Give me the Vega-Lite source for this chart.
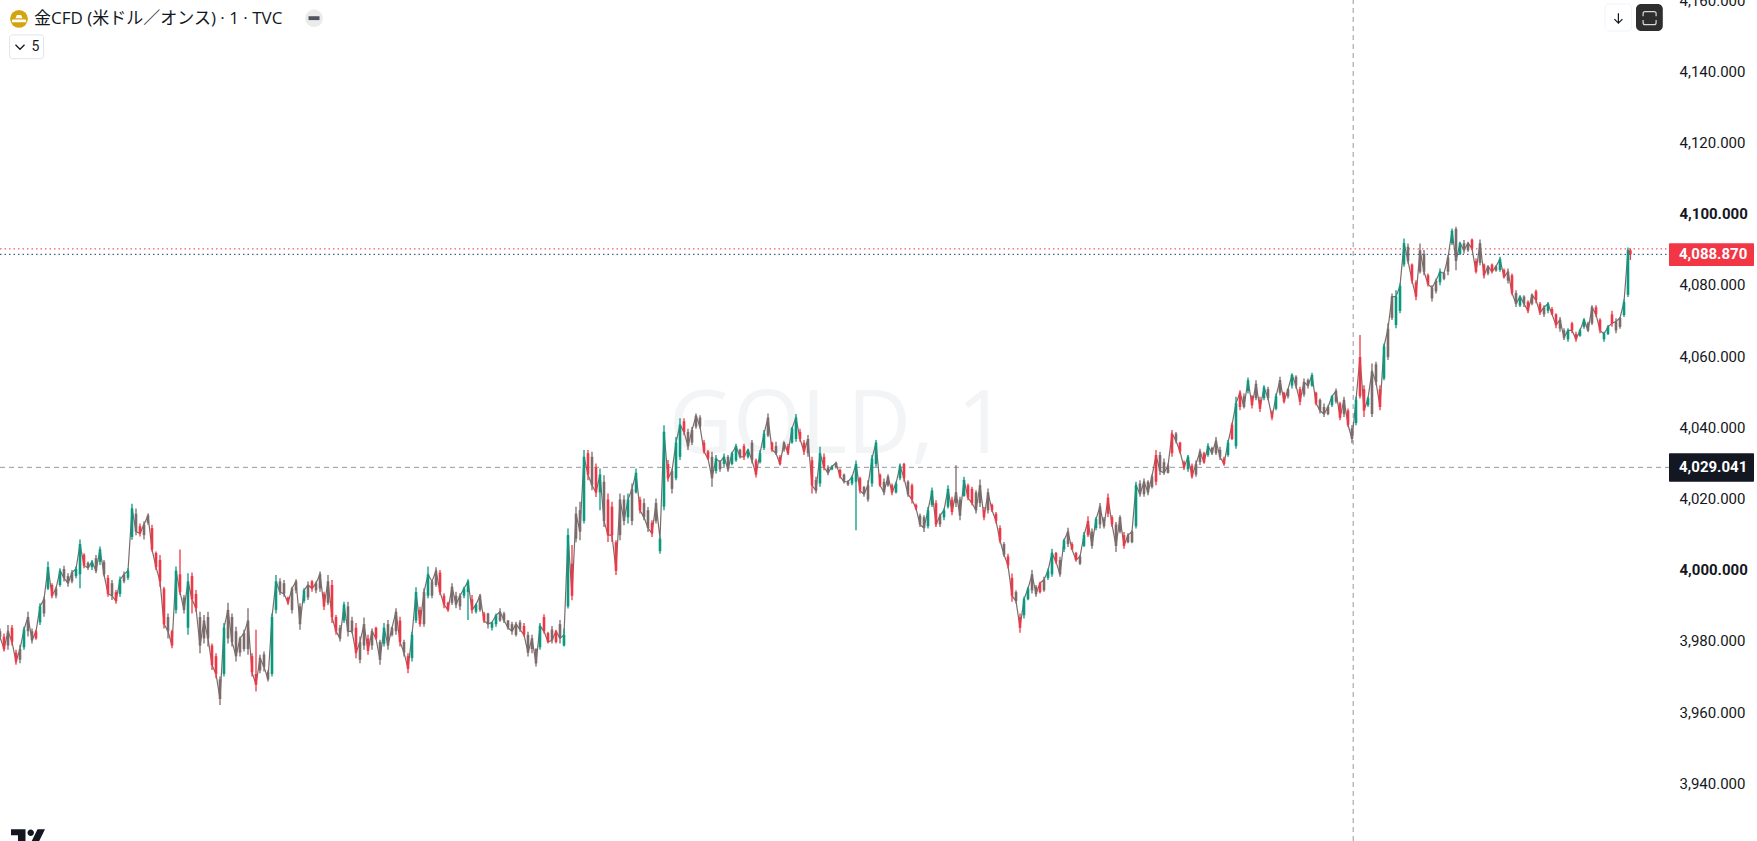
{"$schema":"https://vega.github.io/schema/vega-lite/v6.json","width":1669,"height":841,"autosize":{"type":"none"},"padding":{"left":0,"top":0,"right":88,"bottom":0},"background":"#ffffff","config":{"view":{"stroke":null},"axisY":{"title":null,"orient":"right","domain":false,"ticks":false,"grid":false,"labelPadding":10,"labelOffset":-1,"labelFont":"Roboto","labelFontSize":15,"labelColor":"#131722","format":",.3f","values":[3940,3960,3980,4000,4020,4040,4060,4080,4100,4120,4140,4160],"labelOverlap":false,"labelBound":false,"labelFlush":false}},
"encoding":{"x":{"field":"t","type":"quantitative","scale":{"domain":[0,417.25],"nice":false,"zero":false},"axis":null},"y":{"field":"p","type":"quantitative","scale":{"domain":[3924.1,4160.3],"nice":false,"zero":false},"axis":{"title":null,"orient":"right","format":",.3f","values":[3940,3960,3980,4000,4020,4040,4060,4080,4100,4120,4140,4160],"labelFontWeight":{"condition":{"test":"datum.value%100===0","value":"bold"},"value":"normal"}}}},
"layer":[
{"data":{"values":[{"t":209.5,"p":4040.4,"s":"GOLD, 1"}]},"mark":{"type":"text","font":"Open Sans","fontSize":88,"align":"center","baseline":"middle","color":"#f3f4f6"},"encoding":{"text":{"field":"s"}}},
{"data":{"values":[{"t":0,"t2":417.25,"p":4090.4}]},"mark":{"type":"rule","stroke":"#f23645","strokeWidth":1,"strokeDash":[1.5,3]},"encoding":{"x2":{"field":"t2"}}},
{"data":{"values":[{"t":0,"t2":417.25,"p":4088.87}]},"mark":{"type":"rule","stroke":"#1e3a6e","strokeWidth":1,"strokeDash":[1.5,3]},"encoding":{"x2":{"field":"t2"}}},
{"data":{"values":[{"t":0,"t2":417.25,"p":4029.041}]},"mark":{"type":"rule","stroke":"#9598a1","strokeWidth":1,"strokeDash":[5,4]},"encoding":{"x2":{"field":"t2"}}},
{"data":{"values":[{"t":338.3,"p":3924.1,"p2":4160.3}]},"mark":{"type":"rule","stroke":"#9598a1","strokeWidth":1,"strokeDash":[5,4]},"encoding":{"y2":{"field":"p2"}}},
{"data":{"name":"candles"},"mark":{"type":"line","strokeWidth":1.2,"color":"#7b6b6b"},"encoding":{"y":{"field":"c","type":"quantitative","scale":{"domain":[3924.1,4160.3],"nice":false,"zero":false},"axis":{"title":null,"orient":"right","format":",.3f","values":[3940,3960,3980,4000,4020,4040,4060,4080,4100,4120,4140,4160],"labelFontWeight":{"condition":{"test":"datum.value%100===0","value":"bold"},"value":"normal"}}}}},
{"data":{"name":"candles"},"mark":{"type":"rule","strokeWidth":1.3},"encoding":{"y":{"field":"h","type":"quantitative","scale":{"domain":[3924.1,4160.3],"nice":false,"zero":false},"axis":{"title":null,"orient":"right","format":",.3f","values":[3940,3960,3980,4000,4020,4040,4060,4080,4100,4120,4140,4160],"labelFontWeight":{"condition":{"test":"datum.value%100===0","value":"bold"},"value":"normal"}}},"y2":{"field":"l"},"color":{"field":"d","type":"nominal","scale":{"domain":["u","d","m"],"range":["#089981","#f23645","#7b6b6b"]},"legend":null}}},
{"data":{"name":"candles"},"mark":{"type":"rule","strokeWidth":2.6},"encoding":{"y":{"field":"o","type":"quantitative","scale":{"domain":[3924.1,4160.3],"nice":false,"zero":false},"axis":{"title":null,"orient":"right","format":",.3f","values":[3940,3960,3980,4000,4020,4040,4060,4080,4100,4120,4140,4160],"labelFontWeight":{"condition":{"test":"datum.value%100===0","value":"bold"},"value":"normal"}}},"y2":{"field":"c"},"color":{"field":"d","type":"nominal","scale":{"domain":["u","d","m"],"range":["#089981","#f23645","#7b6b6b"]},"legend":null}}},
{"data":{"values":[{"t":417.25,"t2":438.5,"p":4092,"p2":4085.6}]},"mark":{"type":"rect","color":"#f23645","cornerRadius":1},"encoding":{"x2":{"field":"t2"},"y2":{"field":"p2"}}},
{"data":{"values":[{"t":417.25,"t2":438.5,"p":4033,"p2":4025}]},"mark":{"type":"rect","color":"#131722","cornerRadius":1},"encoding":{"x2":{"field":"t2"},"y2":{"field":"p2"}}},
{"data":{"values":[{"t":419.75,"p":4088.87,"s":"4,088.870"},{"t":419.75,"p":4029.041,"s":"4,029.041"}]},"mark":{"type":"text","font":"Roboto","fontSize":15,"fontWeight":"bold","align":"left","baseline":"middle","color":"#ffffff"},"encoding":{"text":{"field":"s"}}},
{"data":{"values":[{"t":8.5,"p":4155,"s":"金CFD (米ドル／オンス) · 1 · TVC"}]},"mark":{"type":"text","font":"Open Sans, Noto Sans CJK JP","fontSize":17,"align":"left","baseline":"middle","color":"#131722"},"encoding":{"text":{"field":"s"}}},
{"data":{"values":[{"t":4.75,"p":4155}]},"mark":{"type":"point","filled":true,"shape":"circle","size":314,"color":"#d4a40e","opacity":1}},
{"data":{"values":[{"t":4.75,"p":4155}]},"mark":{"type":"point","filled":true,"shape":"M-0.3,-0.55L0.3,-0.55L0.5,-0.1L-0.5,-0.1ZM-0.95,0.1L0.95,0.1L1.05,0.5L-1.05,0.5Z","size":196,"color":"#ffffff","opacity":1}},
{"data":{"values":[{"t":78.5,"p":4155.2}]},"mark":{"type":"point","filled":true,"shape":"circle","size":314,"color":"#ebebeb","opacity":1}},
{"data":{"values":[{"t":78.5,"p":4155.2}]},"mark":{"type":"point","filled":true,"shape":"M-1,-0.35H1V0.35H-1Z","size":121,"color":"#50535e","opacity":1}},
{"data":{"values":[{"t":2.4,"t2":10.9,"p":4150.5,"p2":4143.8}]},"mark":{"type":"rect","fill":"#ffffff","stroke":"#e0e3eb","strokeWidth":1,"cornerRadius":3},"encoding":{"x2":{"field":"t2"},"y2":{"field":"p2"}}},
{"data":{"values":[{"t":5,"p":4147.1}]},"mark":{"type":"point","filled":false,"shape":"M-1,-0.5L0,0.5L1,-0.5","size":81,"strokeWidth":1.3,"color":"#131722","opacity":1}},
{"data":{"values":[{"t":7.9,"p":4147.1,"s":"5"}]},"mark":{"type":"text","font":"Roboto","fontSize":14,"align":"left","baseline":"middle","color":"#131722"},"encoding":{"text":{"field":"s"}}},
{"data":{"values":[{"t":401.3,"t2":407.9,"p":4159.2,"p2":4151.6}]},"mark":{"type":"rect","fill":"#ffffff","stroke":"#f0f3fa","strokeWidth":1,"cornerRadius":4},"encoding":{"x2":{"field":"t2"},"y2":{"field":"p2"}}},
{"data":{"values":[{"t":404.6,"p":4155.2}]},"mark":{"type":"point","filled":false,"shape":"M0,-1V1M-0.8,0.2L0,1L0.8,0.2","size":100,"strokeWidth":1.2,"color":"#131722","opacity":1}},
{"data":{"values":[{"t":409,"t2":415.7,"p":4159.2,"p2":4151.6}]},"mark":{"type":"rect","color":"#2e2e2e","cornerRadius":5},"encoding":{"x2":{"field":"t2"},"y2":{"field":"p2"}}},
{"data":{"values":[{"t":412.4,"p":4155.2}]},"mark":{"type":"point","filled":false,"shape":"M-1,-0.3V-0.7Q-1,-1-0.7,-1H0.7Q1,-1 1,-0.7V-0.3M-1,0.3V0.7Q-1,1-0.7,1H0.7Q1,1 1,0.7V0.3","size":169,"strokeWidth":1.2,"color":"#d8d8d8","opacity":1}},
{"data":{"values":[{"t":7,"p":3924.9}]},"mark":{"type":"point","filled":true,"shape":"M-1,-0.53H-0.147V0.7H-0.59V-0.176H-1ZM0.56,-0.53H1L0.4,0.7H-0.04ZM-0.03,-0.32A0.19,0.19 0 1 0 0.35,-0.32A0.19,0.19 0 1 0 -0.03,-0.32Z","size":1156,"color":"#131722","opacity":1}}
],
"datasets":{"candles":[
{"t":0,"h":3983.8,"l":3980.6,"o":3983,"c":3981.4,"d":"m"},{"t":1,"h":3982.4,"l":3977.3,"o":3981.5,"c":3978,"d":"d"},{"t":2,"h":3984.8,"l":3977.8,"o":3979,"c":3983,"d":"m"},{"t":3,"h":3984.8,"l":3979,"o":3984,"c":3980,"d":"d"},{"t":4,"h":3977.8,"l":3973.6,"o":3977,"c":3974.5,"d":"d"},{"t":5,"h":3979.2,"l":3974,"o":3975,"c":3978,"d":"m"},{"t":6,"h":3984.3,"l":3977.8,"o":3978.5,"c":3983.5,"d":"u"},{"t":7,"h":3988.5,"l":3981.5,"o":3983,"c":3987,"d":"m"},{"t":8,"h":3983.8,"l":3979.6,"o":3983,"c":3980.5,"d":"m"},{"t":9,"h":3983.4,"l":3980.6,"o":3981,"c":3983,"d":"d"},
{"t":10,"h":3990.9,"l":3984.8,"o":3985.5,"c":3990,"d":"u"},{"t":11,"h":3992.7,"l":3987.1,"o":3988,"c":3992,"d":"m"},{"t":12,"h":4002.6,"l":3994.6,"o":3995,"c":4001,"d":"u"},{"t":13,"h":3996.5,"l":3992.3,"o":3996,"c":3993,"d":"d"},{"t":14,"h":3995.5,"l":3992.3,"o":3993,"c":3995,"d":"m"},{"t":15,"h":4000.7,"l":3995.5,"o":3996,"c":4000,"d":"u"},{"t":16,"h":4001.4,"l":3997,"o":4000.5,"c":3998,"d":"m"},{"t":17,"h":3999.3,"l":3995.5,"o":3998.5,"c":3996.5,"d":"m"},{"t":18,"h":4000.2,"l":3996.5,"o":3997,"c":3999.5,"d":"m"},{"t":19,"h":4001.2,"l":3997.9,"o":3998.5,"c":4000.5,"d":"u"},
{"t":20,"h":4008.8,"l":3995.1,"o":3999,"c":4007.5,"d":"u"},{"t":21,"h":4004.9,"l":4000.7,"o":4004.5,"c":4001.5,"d":"d"},{"t":22,"h":4002.6,"l":4000.2,"o":4002.2,"c":4000.8,"d":"m"},{"t":23,"h":4003,"l":4000.2,"o":4001,"c":4002.5,"d":"u"},{"t":24,"h":4004.4,"l":3999.3,"o":4003.5,"c":4000,"d":"m"},{"t":25,"h":4006.8,"l":4001.6,"o":4002.5,"c":4006,"d":"u"},{"t":26,"h":4003,"l":3998.4,"o":4002.5,"c":3999,"d":"m"},{"t":27,"h":3998.8,"l":3992.7,"o":3998,"c":3993.5,"d":"d"},{"t":28,"h":3997.4,"l":3991.8,"o":3996.5,"c":3993,"d":"m"},{"t":29,"h":3994.6,"l":3990.7,"o":3994,"c":3991.5,"d":"d"},
{"t":30,"h":3998.4,"l":3992.7,"o":3993.5,"c":3997.5,"d":"u"},{"t":31,"h":3999.8,"l":3996.5,"o":3997,"c":3999,"d":"m"},{"t":32,"h":4000.7,"l":3997.4,"o":3998,"c":4000,"d":"u"},{"t":33,"h":4018.8,"l":4008.7,"o":4009.5,"c":4017.5,"d":"u"},{"t":34,"h":4017.5,"l":4010,"o":4016,"c":4011,"d":"m"},{"t":35,"h":4013.3,"l":4009.6,"o":4012.5,"c":4010.5,"d":"d"},{"t":36,"h":4013.8,"l":4008.8,"o":4010,"c":4013,"d":"m"},{"t":37,"h":4016.1,"l":4012.9,"o":4013.5,"c":4015.5,"d":"m"},{"t":38,"h":4012.9,"l":4005.4,"o":4012,"c":4006,"d":"d"},{"t":39,"h":4005.4,"l":4000.2,"o":4005,"c":4001,"d":"d"},
{"t":40,"h":4004.4,"l":3995.5,"o":4003,"c":3997,"d":"d"},{"t":41,"h":3995.5,"l":3983.8,"o":3995,"c":3985,"d":"d"},{"t":42,"h":3988,"l":3981,"o":3987,"c":3983,"d":"m"},{"t":43,"h":3983.4,"l":3978.2,"o":3983,"c":3979,"d":"d"},{"t":44,"h":4001.2,"l":3988,"o":3989,"c":4000,"d":"u"},{"t":45,"h":4006,"l":3993.2,"o":3999,"c":3994,"d":"d"},{"t":46,"h":3993.2,"l":3988,"o":3992.5,"c":3989,"d":"m"},{"t":47,"h":3999.3,"l":3982,"o":3984,"c":3997,"d":"u"},{"t":48,"h":3999.5,"l":3988,"o":3998.5,"c":3992,"d":"d"},{"t":49,"h":3994.6,"l":3988.5,"o":3993.5,"c":3989.5,"d":"d"},
{"t":50,"h":3988.5,"l":3976.8,"o":3987,"c":3979,"d":"m"},{"t":51,"h":3987.6,"l":3979.6,"o":3981,"c":3986,"d":"m"},{"t":52,"h":3988.5,"l":3978.7,"o":3987,"c":3981,"d":"m"},{"t":53,"h":3979.6,"l":3972.1,"o":3979,"c":3973.5,"d":"d"},{"t":54,"h":3976.8,"l":3969.8,"o":3976,"c":3971,"d":"d"},{"t":55,"h":3970.3,"l":3962.3,"o":3969.5,"c":3964,"d":"m"},{"t":56,"h":3985.3,"l":3970.3,"o":3971,"c":3984,"d":"u"},{"t":57,"h":3991,"l":3979.6,"o":3981,"c":3989,"d":"m"},{"t":58,"h":3988,"l":3978.7,"o":3987,"c":3980,"d":"m"},{"t":59,"h":3984.3,"l":3974.5,"o":3983,"c":3976,"d":"m"},
{"t":60,"h":3981.5,"l":3975.9,"o":3977,"c":3981,"d":"m"},{"t":61,"h":3983.4,"l":3977.3,"o":3978,"c":3982.5,"d":"m"},{"t":62,"h":3989.5,"l":3976.4,"o":3978,"c":3986,"d":"m"},{"t":63,"h":3976.8,"l":3970.3,"o":3976,"c":3971.5,"d":"d"},{"t":64,"h":3983.4,"l":3966.1,"o":3971,"c":3968,"d":"d"},{"t":65,"h":3976.4,"l":3971.2,"o":3972,"c":3975.5,"d":"m"},{"t":66,"h":3977.3,"l":3971.7,"o":3976.5,"c":3973,"d":"m"},{"t":67,"h":3972.1,"l":3968.9,"o":3971.5,"c":3969.5,"d":"m"},{"t":68,"h":3988,"l":3970.3,"o":3971,"c":3987,"d":"u"},{"t":69,"h":3998.8,"l":3988,"o":3989,"c":3997,"d":"u"},
{"t":70,"h":3997.9,"l":3993.2,"o":3997,"c":3994,"d":"m"},{"t":71,"h":3997.4,"l":3992.7,"o":3996.5,"c":3993.5,"d":"m"},{"t":72,"h":3992.7,"l":3990.4,"o":3992.5,"c":3991,"d":"d"},{"t":73,"h":3995.5,"l":3988,"o":3989,"c":3995,"d":"m"},{"t":74,"h":3997.6,"l":3993.7,"o":3994.5,"c":3997,"d":"m"},{"t":75,"h":3990.9,"l":3983.4,"o":3990,"c":3985,"d":"m"},{"t":76,"h":3995.1,"l":3990.9,"o":3991.5,"c":3994.5,"d":"u"},{"t":77,"h":3997,"l":3991.8,"o":3992.5,"c":3996,"d":"m"},{"t":78,"h":3997.4,"l":3994.1,"o":3997,"c":3995,"d":"d"},{"t":79,"h":3997,"l":3993.7,"o":3994.5,"c":3996.5,"d":"m"},
{"t":80,"h":3999.8,"l":3994.1,"o":3995,"c":3999,"d":"m"},{"t":81,"h":3994.1,"l":3989,"o":3993.5,"c":3990,"d":"d"},{"t":82,"h":3998.8,"l":3990.4,"o":3991,"c":3997,"d":"m"},{"t":83,"h":3997.4,"l":3985.3,"o":3996,"c":3987,"d":"d"},{"t":84,"h":3987.6,"l":3982,"o":3987,"c":3983,"d":"d"},{"t":85,"h":3984.8,"l":3980.1,"o":3984,"c":3981,"d":"m"},{"t":86,"h":3991.3,"l":3985.3,"o":3986,"c":3990.5,"d":"u"},{"t":87,"h":3991.3,"l":3981.5,"o":3990,"c":3983,"d":"m"},{"t":88,"h":3987.1,"l":3982.4,"o":3986,"c":3983,"d":"m"},{"t":89,"h":3985.3,"l":3975.4,"o":3984,"c":3977,"d":"d"},
{"t":90,"h":3981.5,"l":3974,"o":3975,"c":3980,"d":"m"},{"t":91,"h":3986.9,"l":3977.8,"o":3979,"c":3985,"d":"m"},{"t":92,"h":3982,"l":3976.4,"o":3981,"c":3977.5,"d":"d"},{"t":93,"h":3983.8,"l":3977.8,"o":3979,"c":3983,"d":"m"},{"t":94,"h":3984.3,"l":3980.6,"o":3984,"c":3981,"d":"d"},{"t":95,"h":3980.6,"l":3973.6,"o":3980,"c":3975,"d":"m"},{"t":96,"h":3985.3,"l":3978.7,"o":3979.5,"c":3984,"d":"u"},{"t":97,"h":3986.2,"l":3977.8,"o":3985,"c":3979,"d":"m"},{"t":98,"h":3984.3,"l":3981.5,"o":3982,"c":3984,"d":"m"},{"t":99,"h":3989.5,"l":3982,"o":3983,"c":3988.5,"d":"m"},
{"t":100,"h":3987.1,"l":3978.7,"o":3986,"c":3980,"d":"d"},{"t":101,"h":3980.6,"l":3975.9,"o":3980,"c":3977,"d":"m"},{"t":102,"h":3976.8,"l":3971.2,"o":3976,"c":3972.5,"d":"d"},{"t":103,"h":3982.9,"l":3974.5,"o":3975.5,"c":3982,"d":"u"},{"t":104,"h":3995.4,"l":3985.3,"o":3986,"c":3994,"d":"u"},{"t":105,"h":3989.9,"l":3984.3,"o":3989,"c":3985,"d":"d"},{"t":106,"h":3995.1,"l":3984.3,"o":3985,"c":3994,"d":"m"},{"t":107,"h":4001.2,"l":3992.3,"o":3993,"c":3999,"d":"u"},{"t":108,"h":3997.4,"l":3992.3,"o":3993,"c":3997,"d":"m"},{"t":109,"h":4001,"l":3995.5,"o":3996,"c":4000,"d":"m"},
{"t":110,"h":4000.2,"l":3993.2,"o":3999.5,"c":3994,"d":"d"},{"t":111,"h":3993.7,"l":3989.5,"o":3993,"c":3990.5,"d":"d"},{"t":112,"h":3991.3,"l":3988.5,"o":3991,"c":3989,"d":"d"},{"t":113,"h":3996.5,"l":3990.4,"o":3991,"c":3995.5,"d":"m"},{"t":114,"h":3994.1,"l":3989.5,"o":3993,"c":3990.5,"d":"m"},{"t":115,"h":3993.7,"l":3989,"o":3990,"c":3993,"d":"m"},{"t":116,"h":3995.5,"l":3992.3,"o":3993,"c":3995,"d":"u"},{"t":117,"h":3997.6,"l":3986.2,"o":3994,"c":3997,"d":"u"},{"t":118,"h":3993.2,"l":3988,"o":3992,"c":3989,"d":"d"},{"t":119,"h":3990.9,"l":3988,"o":3988.5,"c":3990.5,"d":"u"},
{"t":120,"h":3993.5,"l":3988.5,"o":3989,"c":3993,"d":"m"},{"t":121,"h":3988.5,"l":3985.3,"o":3988,"c":3986,"d":"d"},{"t":122,"h":3988.2,"l":3983.8,"o":3988,"c":3985,"d":"m"},{"t":123,"h":3985.7,"l":3983.2,"o":3984,"c":3985.5,"d":"u"},{"t":124,"h":3988,"l":3984.3,"o":3985,"c":3987.5,"d":"u"},{"t":125,"h":3989.5,"l":3985.7,"o":3986,"c":3988.5,"d":"m"},{"t":126,"h":3988.5,"l":3985.3,"o":3988,"c":3986,"d":"m"},{"t":127,"h":3986.2,"l":3983.4,"o":3986,"c":3984,"d":"m"},{"t":128,"h":3985.7,"l":3982,"o":3985,"c":3983,"d":"m"},{"t":129,"h":3985.7,"l":3981.5,"o":3982,"c":3985,"d":"m"},
{"t":130,"h":3986.2,"l":3982.9,"o":3985.5,"c":3983.5,"d":"m"},{"t":131,"h":3985.3,"l":3981.5,"o":3984.5,"c":3982,"d":"d"},{"t":132,"h":3982.9,"l":3975.9,"o":3982,"c":3977,"d":"m"},{"t":133,"h":3982,"l":3976.8,"o":3978,"c":3981,"d":"m"},{"t":134,"h":3978.2,"l":3973.1,"o":3978,"c":3974,"d":"m"},{"t":135,"h":3985.3,"l":3977.8,"o":3978.5,"c":3984.5,"d":"u"},{"t":136,"h":3987.8,"l":3982.4,"o":3987,"c":3983,"d":"d"},{"t":137,"h":3982.9,"l":3979.6,"o":3982.5,"c":3980,"d":"d"},{"t":138,"h":3984.5,"l":3979.6,"o":3983.5,"c":3980.5,"d":"m"},{"t":139,"h":3983.4,"l":3979.6,"o":3980,"c":3983,"d":"d"},
{"t":140,"h":3986.2,"l":3979.6,"o":3985,"c":3981,"d":"m"},{"t":141,"h":3983.8,"l":3978.7,"o":3979,"c":3982,"d":"u"},{"t":142,"h":4011.9,"l":3989.4,"o":3990,"c":4010,"d":"u"},{"t":143,"h":4007.2,"l":3991.7,"o":4002,"c":3993,"d":"d"},{"t":144,"h":4018,"l":4008,"o":4009,"c":4016,"d":"m"},{"t":145,"h":4019.4,"l":4008.6,"o":4017,"c":4011,"d":"m"},{"t":146,"h":4033.9,"l":4013.3,"o":4014,"c":4032,"d":"u"},{"t":147,"h":4033.9,"l":4025.4,"o":4033,"c":4027,"d":"d"},{"t":148,"h":4033.4,"l":4022.6,"o":4032,"c":4024,"d":"m"},{"t":149,"h":4030.1,"l":4020.7,"o":4029,"c":4022,"d":"d"},
{"t":150,"h":4028.7,"l":4017,"o":4022,"c":4027,"d":"u"},{"t":151,"h":4026.8,"l":4012.3,"o":4025,"c":4014,"d":"m"},{"t":152,"h":4021.7,"l":4008.1,"o":4020,"c":4010,"d":"d"},{"t":153,"h":4019.4,"l":4008.1,"o":4018,"c":4010,"d":"d"},{"t":154,"h":4008.6,"l":3998.8,"o":4008,"c":4000,"d":"d"},{"t":155,"h":4021.7,"l":4008.6,"o":4010,"c":4020,"d":"m"},{"t":156,"h":4021.2,"l":4012.8,"o":4020,"c":4014,"d":"m"},{"t":157,"h":4021.7,"l":4013.3,"o":4015,"c":4020,"d":"u"},{"t":158,"h":4024.5,"l":4012.8,"o":4014,"c":4023,"d":"m"},{"t":159,"h":4028.7,"l":4021.7,"o":4022,"c":4027.5,"d":"u"},
{"t":160,"h":4020.8,"l":4016.1,"o":4020,"c":4017,"d":"d"},{"t":161,"h":4020.3,"l":4014.2,"o":4019,"c":4015,"d":"m"},{"t":162,"h":4017.9,"l":4010.9,"o":4017,"c":4012,"d":"m"},{"t":163,"h":4014.2,"l":4009.5,"o":4013.5,"c":4010.5,"d":"d"},{"t":164,"h":4020.3,"l":4013.3,"o":4014,"c":4019,"d":"m"},{"t":165,"h":4009.5,"l":4004.8,"o":4005.5,"c":4009,"d":"u"},{"t":166,"h":4040.9,"l":4017,"o":4018,"c":4039,"d":"u"},{"t":167,"h":4031.1,"l":4025,"o":4030,"c":4026,"d":"d"},{"t":168,"h":4028.7,"l":4021.7,"o":4023,"c":4028,"d":"m"},{"t":169,"h":4037.6,"l":4025.4,"o":4026,"c":4036,"d":"u"},
{"t":170,"h":4042.8,"l":4031.1,"o":4032,"c":4041,"d":"u"},{"t":171,"h":4042.8,"l":4038.1,"o":4042,"c":4039,"d":"d"},{"t":172,"h":4039.9,"l":4033.9,"o":4039,"c":4035,"d":"m"},{"t":173,"h":4040.4,"l":4035.3,"o":4036,"c":4039.5,"d":"m"},{"t":174,"h":4044.2,"l":4039.9,"o":4040.5,"c":4043.5,"d":"m"},{"t":175,"h":4043.7,"l":4039.9,"o":4043,"c":4040.5,"d":"m"},{"t":176,"h":4036.7,"l":4032.9,"o":4036,"c":4033.5,"d":"d"},{"t":177,"h":4033.9,"l":4031.1,"o":4033.5,"c":4031.5,"d":"d"},{"t":178,"h":4033.4,"l":4023.6,"o":4032,"c":4026,"d":"m"},{"t":179,"h":4032.5,"l":4027.3,"o":4028,"c":4031.5,"d":"u"},
{"t":180,"h":4031.1,"l":4027.8,"o":4028.5,"c":4030.5,"d":"m"},{"t":181,"h":4032.9,"l":4029.2,"o":4030,"c":4032,"d":"u"},{"t":182,"h":4032.5,"l":4027.8,"o":4032,"c":4028.5,"d":"m"},{"t":183,"h":4033.4,"l":4029.6,"o":4030,"c":4033,"d":"u"},{"t":184,"h":4035.7,"l":4030.6,"o":4031,"c":4035,"d":"u"},{"t":185,"h":4034.3,"l":4031.5,"o":4034,"c":4032,"d":"m"},{"t":186,"h":4035.7,"l":4031.1,"o":4035,"c":4032,"d":"d"},{"t":187,"h":4034.3,"l":4031.5,"o":4032,"c":4034,"d":"u"},{"t":188,"h":4036.7,"l":4030.1,"o":4036,"c":4031,"d":"m"},{"t":189,"h":4031.5,"l":4026.2,"o":4031,"c":4027,"d":"d"},
{"t":190,"h":4033.9,"l":4030.1,"o":4030.5,"c":4033,"d":"u"},{"t":191,"h":4039.5,"l":4033.9,"o":4034.5,"c":4038.5,"d":"u"},{"t":192,"h":4044.2,"l":4037.6,"o":4038,"c":4043,"d":"m"},{"t":193,"h":4036.2,"l":4033.4,"o":4036,"c":4034,"d":"d"},{"t":194,"h":4036.2,"l":4032.5,"o":4035,"c":4033,"d":"m"},{"t":195,"h":4032.5,"l":4029.6,"o":4032,"c":4030,"d":"d"},{"t":196,"h":4036.2,"l":4033.4,"o":4034,"c":4036,"d":"m"},{"t":197,"h":4035.7,"l":4032.5,"o":4035,"c":4033,"d":"d"},{"t":198,"h":4040.4,"l":4035.7,"o":4036,"c":4040,"d":"u"},{"t":199,"h":4044,"l":4036.2,"o":4037,"c":4043,"d":"u"},
{"t":200,"h":4039.9,"l":4036.2,"o":4039,"c":4037,"d":"d"},{"t":201,"h":4036.7,"l":4032.5,"o":4036,"c":4033.5,"d":"d"},{"t":202,"h":4038.1,"l":4032,"o":4033,"c":4037,"d":"m"},{"t":203,"h":4032,"l":4021.7,"o":4031,"c":4024,"d":"d"},{"t":204,"h":4026.4,"l":4021.7,"o":4025.5,"c":4022.5,"d":"m"},{"t":205,"h":4034.8,"l":4023.6,"o":4024.5,"c":4033,"d":"u"},{"t":206,"h":4032.9,"l":4028.2,"o":4032,"c":4029,"d":"d"},{"t":207,"h":4029.6,"l":4026.8,"o":4029,"c":4027.5,"d":"m"},{"t":208,"h":4029.6,"l":4028.2,"o":4028.5,"c":4029.3,"d":"u"},{"t":209,"h":4030.6,"l":4028.7,"o":4029,"c":4030.3,"d":"m"},
{"t":210,"h":4028.7,"l":4025.9,"o":4028.3,"c":4026.5,"d":"d"},{"t":211,"h":4027.3,"l":4024.5,"o":4027,"c":4025,"d":"m"},{"t":212,"h":4025.4,"l":4023.8,"o":4024.2,"c":4025,"d":"m"},{"t":213,"h":4026.8,"l":4024,"o":4024.5,"c":4026.3,"d":"u"},{"t":214,"h":4031,"l":4011.4,"o":4025,"c":4030,"d":"u"},{"t":215,"h":4026.4,"l":4021.7,"o":4026,"c":4022.5,"d":"d"},{"t":216,"h":4023.8,"l":4020.8,"o":4023.5,"c":4021.5,"d":"m"},{"t":217,"h":4025.4,"l":4019.4,"o":4020,"c":4024,"d":"m"},{"t":218,"h":4032.5,"l":4023.6,"o":4024.5,"c":4031.5,"d":"u"},{"t":219,"h":4036.7,"l":4029.2,"o":4030,"c":4036,"d":"u"},
{"t":220,"h":4027.3,"l":4023.6,"o":4027,"c":4024,"d":"d"},{"t":221,"h":4025.9,"l":4021.2,"o":4025,"c":4022,"d":"m"},{"t":222,"h":4027.1,"l":4023.6,"o":4024,"c":4026.5,"d":"m"},{"t":223,"h":4024.5,"l":4021.2,"o":4024,"c":4022,"d":"d"},{"t":224,"h":4025,"l":4021.7,"o":4022,"c":4024.5,"d":"u"},{"t":225,"h":4030.1,"l":4025.4,"o":4026,"c":4029.5,"d":"u"},{"t":226,"h":4030.3,"l":4025,"o":4030,"c":4026,"d":"d"},{"t":227,"h":4025.4,"l":4020.8,"o":4025,"c":4021.5,"d":"m"},{"t":228,"h":4024.5,"l":4018.9,"o":4024,"c":4020,"d":"d"},{"t":229,"h":4018.9,"l":4017,"o":4018.5,"c":4017.5,"d":"d"},
{"t":230,"h":4016.1,"l":4012.3,"o":4015.5,"c":4013,"d":"m"},{"t":231,"h":4015.6,"l":4010.9,"o":4015,"c":4012,"d":"m"},{"t":232,"h":4017.9,"l":4011.9,"o":4012.5,"c":4017,"d":"u"},{"t":233,"h":4023.4,"l":4017.9,"o":4018.5,"c":4022.5,"d":"u"},{"t":234,"h":4019.8,"l":4012.3,"o":4019,"c":4013,"d":"d"},{"t":235,"h":4016.1,"l":4012.3,"o":4013,"c":4015.5,"d":"m"},{"t":236,"h":4017.5,"l":4014.2,"o":4015,"c":4017,"d":"u"},{"t":237,"h":4024,"l":4017.5,"o":4018,"c":4023,"d":"u"},{"t":238,"h":4020.8,"l":4015.6,"o":4020,"c":4016.5,"d":"d"},{"t":239,"h":4029.6,"l":4017.9,"o":4019,"c":4022,"d":"m"},
{"t":240,"h":4020.8,"l":4014.2,"o":4020,"c":4015.5,"d":"m"},{"t":241,"h":4026.4,"l":4020.8,"o":4021,"c":4025.5,"d":"u"},{"t":242,"h":4024.5,"l":4019.8,"o":4024,"c":4020.5,"d":"d"},{"t":243,"h":4023.6,"l":4018.4,"o":4023,"c":4019,"d":"d"},{"t":244,"h":4022.6,"l":4016.1,"o":4022,"c":4017,"d":"m"},{"t":245,"h":4025.6,"l":4017.9,"o":4019,"c":4024,"d":"m"},{"t":246,"h":4017.9,"l":4014.2,"o":4017,"c":4015,"d":"d"},{"t":247,"h":4023.1,"l":4016.1,"o":4017,"c":4022,"d":"m"},{"t":248,"h":4018.9,"l":4016.5,"o":4018.5,"c":4017,"d":"d"},{"t":249,"h":4016.5,"l":4013.3,"o":4016,"c":4014,"d":"d"},
{"t":250,"h":4012.8,"l":4007.7,"o":4012,"c":4008.5,"d":"d"},{"t":251,"h":4008.1,"l":4003.9,"o":4007.5,"c":4004.5,"d":"m"},{"t":252,"h":4004.8,"l":4000.6,"o":4004,"c":4001.5,"d":"d"},{"t":253,"h":3999.2,"l":3991.3,"o":3998,"c":3993,"d":"d"},{"t":254,"h":3994.5,"l":3990.8,"o":3994,"c":3991.5,"d":"m"},{"t":255,"h":3988,"l":3982.6,"o":3987,"c":3984,"d":"d"},{"t":256,"h":3992.7,"l":3986.6,"o":3987.5,"c":3992,"d":"u"},{"t":257,"h":3995.5,"l":3991.7,"o":3992,"c":3995,"d":"u"},{"t":258,"h":4000.2,"l":3993.6,"o":3994.5,"c":3999,"d":"m"},{"t":259,"h":3996,"l":3992.7,"o":3995.5,"c":3993.5,"d":"m"},
{"t":260,"h":3996.9,"l":3993.6,"o":3994,"c":3996.5,"d":"d"},{"t":261,"h":3998.3,"l":3994.1,"o":3994.5,"c":3997.5,"d":"m"},{"t":262,"h":4000.6,"l":3997.4,"o":3998,"c":4000,"d":"u"},{"t":263,"h":4006.2,"l":3998.3,"o":3999,"c":4005,"d":"u"},{"t":264,"h":4005.3,"l":4002,"o":4005,"c":4002.5,"d":"d"},{"t":265,"h":4003.9,"l":3998.3,"o":4003,"c":3999,"d":"m"},{"t":266,"h":4009,"l":4005.3,"o":4006,"c":4008.5,"d":"u"},{"t":267,"h":4012.1,"l":4006.7,"o":4007.5,"c":4011,"d":"m"},{"t":268,"h":4008.1,"l":4005.8,"o":4007.5,"c":4006,"d":"d"},{"t":269,"h":4005.3,"l":4002.5,"o":4005,"c":4003,"d":"d"},
{"t":270,"h":4004.4,"l":4001.6,"o":4002,"c":4004,"d":"m"},{"t":271,"h":4010.9,"l":4006.7,"o":4007,"c":4010,"d":"u"},{"t":272,"h":4015.3,"l":4009.5,"o":4010,"c":4014,"d":"d"},{"t":273,"h":4011.9,"l":4006.2,"o":4011,"c":4007,"d":"m"},{"t":274,"h":4015.1,"l":4011.4,"o":4012,"c":4014.5,"d":"u"},{"t":275,"h":4019,"l":4011.9,"o":4013,"c":4018,"d":"m"},{"t":276,"h":4015.1,"l":4011.9,"o":4014.5,"c":4012.5,"d":"m"},{"t":277,"h":4021.7,"l":4015.1,"o":4016,"c":4020.5,"d":"d"},{"t":278,"h":4015.6,"l":4012.3,"o":4015,"c":4013,"d":"d"},{"t":279,"h":4013.7,"l":4005.3,"o":4013,"c":4007,"d":"m"},
{"t":280,"h":4015.6,"l":4010.5,"o":4011,"c":4015,"d":"m"},{"t":281,"h":4010.9,"l":4006.2,"o":4010,"c":4007,"d":"d"},{"t":282,"h":4010.5,"l":4007.7,"o":4008,"c":4010,"d":"m"},{"t":283,"h":4011.4,"l":4007.7,"o":4008,"c":4011,"d":"m"},{"t":284,"h":4025,"l":4011.9,"o":4012.5,"c":4024,"d":"u"},{"t":285,"h":4025.4,"l":4020.8,"o":4024.5,"c":4021.5,"d":"m"},{"t":286,"h":4025.9,"l":4020.8,"o":4021.5,"c":4025,"d":"m"},{"t":287,"h":4025.4,"l":4021.2,"o":4025,"c":4022,"d":"m"},{"t":288,"h":4027.1,"l":4023.1,"o":4023.5,"c":4026.5,"d":"m"},{"t":289,"h":4033.9,"l":4024,"o":4025,"c":4032.5,"d":"d"},
{"t":290,"h":4033.4,"l":4026.9,"o":4032.5,"c":4028,"d":"m"},{"t":291,"h":4031.5,"l":4026.9,"o":4030.5,"c":4027.5,"d":"m"},{"t":292,"h":4030.1,"l":4027.3,"o":4027.5,"c":4029.5,"d":"m"},{"t":293,"h":4039.5,"l":4032,"o":4033,"c":4038.5,"d":"d"},{"t":294,"h":4039,"l":4035.8,"o":4038.5,"c":4036.5,"d":"m"},{"t":295,"h":4036.2,"l":4032.9,"o":4036,"c":4033.5,"d":"d"},{"t":296,"h":4031,"l":4028.3,"o":4030.5,"c":4029,"d":"d"},{"t":297,"h":4032.5,"l":4027.8,"o":4028.5,"c":4032,"d":"u"},{"t":298,"h":4030.1,"l":4025.9,"o":4029.5,"c":4026.5,"d":"d"},{"t":299,"h":4031,"l":4026.4,"o":4027,"c":4030,"d":"m"},
{"t":300,"h":4034.3,"l":4029.7,"o":4030.5,"c":4033.5,"d":"m"},{"t":301,"h":4033.4,"l":4030.1,"o":4033,"c":4030.5,"d":"d"},{"t":302,"h":4035.8,"l":4032,"o":4032.5,"c":4035,"d":"u"},{"t":303,"h":4034.8,"l":4032.5,"o":4034.5,"c":4033,"d":"m"},{"t":304,"h":4037.6,"l":4032.5,"o":4033,"c":4036.5,"d":"m"},{"t":305,"h":4034.8,"l":4031.1,"o":4034,"c":4032,"d":"m"},{"t":306,"h":4032,"l":4029.5,"o":4031.5,"c":4030,"d":"d"},{"t":307,"h":4036.7,"l":4032,"o":4032.5,"c":4036,"d":"u"},{"t":308,"h":4041.6,"l":4036.7,"o":4037,"c":4041,"d":"d"},{"t":309,"h":4048.9,"l":4034.3,"o":4035,"c":4047,"d":"u"},
{"t":310,"h":4050.7,"l":4045.1,"o":4046,"c":4050,"d":"d"},{"t":311,"h":4049.8,"l":4045.6,"o":4049,"c":4046,"d":"m"},{"t":312,"h":4054.3,"l":4049.8,"o":4050.5,"c":4053.5,"d":"u"},{"t":313,"h":4049.3,"l":4045.6,"o":4049,"c":4046.5,"d":"d"},{"t":314,"h":4053.5,"l":4047.9,"o":4048.5,"c":4052.5,"d":"m"},{"t":315,"h":4048.9,"l":4044.6,"o":4048,"c":4045.5,"d":"d"},{"t":316,"h":4052.1,"l":4047.9,"o":4048.5,"c":4051.5,"d":"u"},{"t":317,"h":4051.7,"l":4047.9,"o":4051,"c":4048.5,"d":"m"},{"t":318,"h":4045.1,"l":4042.3,"o":4044.5,"c":4043,"d":"d"},{"t":319,"h":4049.8,"l":4045.1,"o":4045.5,"c":4049,"d":"u"},
{"t":320,"h":4054.5,"l":4049.3,"o":4050,"c":4053.5,"d":"m"},{"t":321,"h":4050.3,"l":4047,"o":4050,"c":4047.5,"d":"d"},{"t":322,"h":4051.2,"l":4048.4,"o":4049,"c":4051,"d":"m"},{"t":323,"h":4055.4,"l":4051.2,"o":4052,"c":4055,"d":"u"},{"t":324,"h":4054.9,"l":4051.2,"o":4054.5,"c":4052,"d":"m"},{"t":325,"h":4051.7,"l":4046.5,"o":4051,"c":4047.5,"d":"d"},{"t":326,"h":4054,"l":4048.9,"o":4049.5,"c":4053,"d":"m"},{"t":327,"h":4054,"l":4051.2,"o":4053.5,"c":4052,"d":"m"},{"t":328,"h":4055.6,"l":4051.7,"o":4052,"c":4055,"d":"u"},{"t":329,"h":4050.3,"l":4046.5,"o":4050,"c":4047,"d":"d"},
{"t":330,"h":4048.4,"l":4044.2,"o":4048,"c":4045,"d":"m"},{"t":331,"h":4047,"l":4043.2,"o":4046,"c":4044,"d":"m"},{"t":332,"h":4046.5,"l":4043.7,"o":4044,"c":4046,"d":"m"},{"t":333,"h":4049.3,"l":4046,"o":4046.5,"c":4049,"d":"u"},{"t":334,"h":4051.2,"l":4047,"o":4047.5,"c":4050.5,"d":"m"},{"t":335,"h":4047.5,"l":4042.3,"o":4047,"c":4043,"d":"d"},{"t":336,"h":4048.9,"l":4043.2,"o":4044,"c":4048,"d":"m"},{"t":337,"h":4045.6,"l":4040.4,"o":4045,"c":4041,"d":"d"},{"t":338,"h":4040.9,"l":4035.8,"o":4040,"c":4037,"d":"m"},{"t":339,"h":4048.9,"l":4040.9,"o":4041.5,"c":4048,"d":"u"},
{"t":340,"h":4066.2,"l":4048.4,"o":4049,"c":4060,"d":"d"},{"t":341,"h":4052.1,"l":4043.2,"o":4051,"c":4045,"d":"d"},{"t":342,"h":4048.9,"l":4046,"o":4046.5,"c":4048.5,"d":"u"},{"t":343,"h":4058.2,"l":4043.2,"o":4044,"c":4056,"d":"m"},{"t":344,"h":4058.7,"l":4052.1,"o":4058,"c":4053,"d":"m"},{"t":345,"h":4052.1,"l":4045.1,"o":4051,"c":4046,"d":"d"},{"t":346,"h":4063.8,"l":4053.5,"o":4054,"c":4063,"d":"u"},{"t":347,"h":4069.5,"l":4059.2,"o":4060,"c":4068,"d":"m"},{"t":348,"h":4077.9,"l":4070.4,"o":4071,"c":4077,"d":"m"},{"t":349,"h":4078.8,"l":4068.1,"o":4069,"c":4077,"d":"u"},
{"t":350,"h":4080.7,"l":4072.3,"o":4073,"c":4080,"d":"u"},{"t":351,"h":4093.3,"l":4085.4,"o":4086,"c":4092,"d":"u"},{"t":352,"h":4091.9,"l":4086.3,"o":4091,"c":4087,"d":"m"},{"t":353,"h":4086.3,"l":4080.7,"o":4086,"c":4081.5,"d":"d"},{"t":354,"h":4081.6,"l":4076,"o":4081,"c":4077,"d":"d"},{"t":355,"h":4091.9,"l":4083.5,"o":4084,"c":4090,"d":"m"},{"t":356,"h":4090.1,"l":4083,"o":4089,"c":4084,"d":"m"},{"t":357,"h":4083.5,"l":4079.8,"o":4083,"c":4080.5,"d":"d"},{"t":358,"h":4080.2,"l":4075.6,"o":4076.5,"c":4079.5,"d":"m"},{"t":359,"h":4082.1,"l":4077.9,"o":4078.5,"c":4081.5,"d":"m"},
{"t":360,"h":4084.9,"l":4080.2,"o":4081,"c":4084,"d":"u"},{"t":361,"h":4084,"l":4081.6,"o":4082,"c":4083.5,"d":"m"},{"t":362,"h":4088.7,"l":4083,"o":4084,"c":4088,"d":"m"},{"t":363,"h":4096.1,"l":4091.5,"o":4092,"c":4095.5,"d":"u"},{"t":364,"h":4096.6,"l":4084.4,"o":4096,"c":4087,"d":"m"},{"t":365,"h":4092.4,"l":4088.7,"o":4089,"c":4092,"d":"u"},{"t":366,"h":4092.9,"l":4089.1,"o":4092,"c":4090,"d":"m"},{"t":367,"h":4092.4,"l":4089.6,"o":4090,"c":4092,"d":"m"},{"t":368,"h":4093.3,"l":4090,"o":4093,"c":4090.5,"d":"d"},{"t":369,"h":4087.7,"l":4083.5,"o":4087,"c":4084,"d":"d"},
{"t":370,"h":4093,"l":4085.8,"o":4086.5,"c":4092,"d":"m"},{"t":371,"h":4086.3,"l":4082.1,"o":4086,"c":4083,"d":"d"},{"t":372,"h":4085.8,"l":4083,"o":4083.5,"c":4085.5,"d":"m"},{"t":373,"h":4086.3,"l":4083.5,"o":4086,"c":4084,"d":"d"},{"t":374,"h":4085.8,"l":4084,"o":4084.3,"c":4085.5,"d":"m"},{"t":375,"h":4088.2,"l":4084,"o":4084.5,"c":4087.5,"d":"u"},{"t":376,"h":4084.9,"l":4082.1,"o":4084.5,"c":4082.5,"d":"d"},{"t":377,"h":4084.9,"l":4080.7,"o":4081.5,"c":4084,"d":"m"},{"t":378,"h":4083.5,"l":4077.4,"o":4083,"c":4078,"d":"d"},{"t":379,"h":4078.8,"l":4074.1,"o":4078,"c":4075,"d":"m"},
{"t":380,"h":4077.4,"l":4074.1,"o":4074.5,"c":4077,"d":"u"},{"t":381,"h":4077.4,"l":4074.1,"o":4077,"c":4075,"d":"m"},{"t":382,"h":4076,"l":4072.3,"o":4075.5,"c":4073,"d":"d"},{"t":383,"h":4077.9,"l":4074.6,"o":4075,"c":4077.5,"d":"m"},{"t":384,"h":4079,"l":4075.1,"o":4078.5,"c":4076,"d":"d"},{"t":385,"h":4075.5,"l":4071.8,"o":4075,"c":4072.5,"d":"d"},{"t":386,"h":4074.6,"l":4071.3,"o":4072,"c":4074,"d":"m"},{"t":387,"h":4075.5,"l":4072.3,"o":4073,"c":4075,"d":"u"},{"t":388,"h":4074.1,"l":4071.8,"o":4073.5,"c":4072,"d":"d"},{"t":389,"h":4072.3,"l":4068.1,"o":4072,"c":4069,"d":"d"},
{"t":390,"h":4071.3,"l":4067.1,"o":4068,"c":4070.5,"d":"m"},{"t":391,"h":4068.1,"l":4064.8,"o":4067.5,"c":4065.5,"d":"m"},{"t":392,"h":4068.1,"l":4064.3,"o":4065,"c":4067.5,"d":"u"},{"t":393,"h":4069.9,"l":4066.7,"o":4069.5,"c":4067.5,"d":"d"},{"t":394,"h":4067.1,"l":4064.3,"o":4066.5,"c":4065,"d":"d"},{"t":395,"h":4068,"l":4065.7,"o":4066,"c":4067.5,"d":"u"},{"t":396,"h":4070.9,"l":4068,"o":4068.5,"c":4070.5,"d":"u"},{"t":397,"h":4069.9,"l":4067.1,"o":4069.5,"c":4067.5,"d":"m"},{"t":398,"h":4074.6,"l":4069,"o":4069.5,"c":4074,"d":"m"},{"t":399,"h":4074.6,"l":4071.3,"o":4074,"c":4072,"d":"d"},
{"t":400,"h":4070.9,"l":4066.7,"o":4070.5,"c":4067.5,"d":"d"},{"t":401,"h":4067.1,"l":4064.3,"o":4065,"c":4066.5,"d":"u"},{"t":402,"h":4069,"l":4066.2,"o":4066.5,"c":4068.5,"d":"u"},{"t":403,"h":4073,"l":4068.5,"o":4072,"c":4069.5,"d":"d"},{"t":404,"h":4070.9,"l":4066.7,"o":4067.5,"c":4070,"d":"m"},{"t":405,"h":4071.3,"l":4068,"o":4068.5,"c":4071,"d":"m"},{"t":406,"h":4076.2,"l":4071.3,"o":4071.8,"c":4075.5,"d":"u"},{"t":407,"h":4090.8,"l":4076.9,"o":4077.5,"c":4090,"d":"u"},{"t":407.6,"h":4090.5,"l":4087.3,"o":4090,"c":4088.87,"d":"d"}
]}}
